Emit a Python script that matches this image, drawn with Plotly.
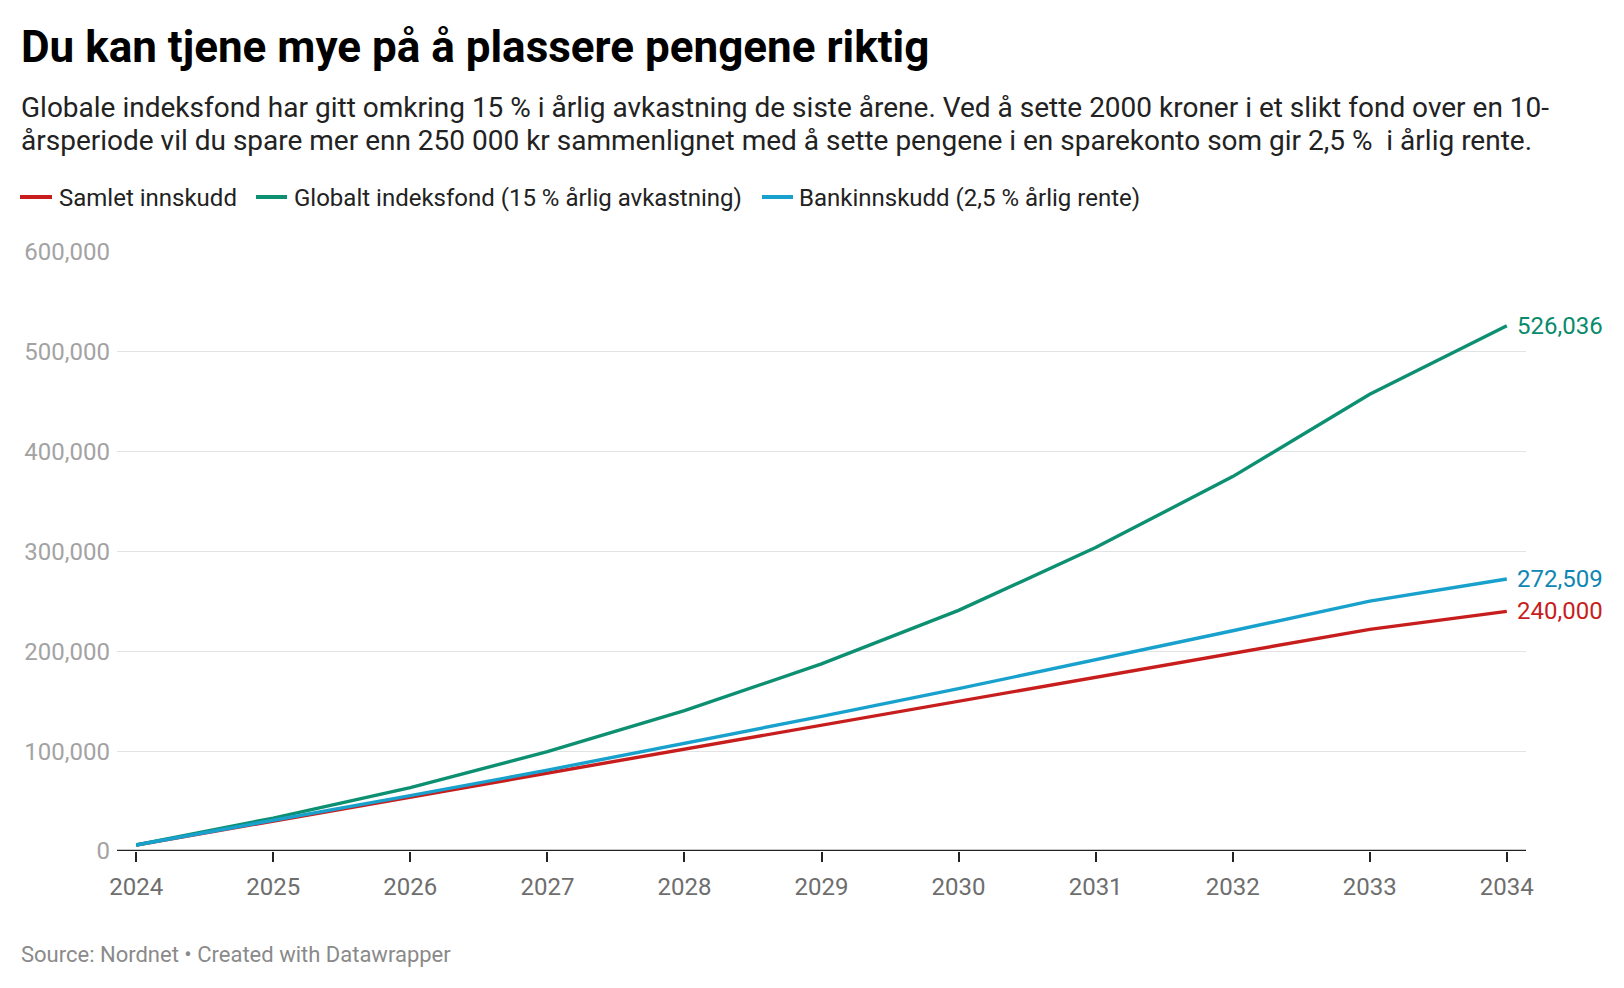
import plotly.graph_objects as go

years = [2024, 2025, 2026, 2027, 2028, 2029, 2030, 2031, 2032, 2033, 2034]
samlet = [6000, 30000, 54000, 78000, 102000, 126000, 150000, 174000, 198000, 222000, 240000]
globalt = [6000, 33000, 63500, 99500, 140500, 187500, 241000, 304000, 375000, 457500, 526036]
bank = [6000, 30400, 55400, 81000, 107700, 134800, 162600, 191200, 220600, 250300, 272509]

names = ["Samlet innskudd", "Globalt indeksfond (15 % årlig avkastning)", "Bankinnskudd (2,5 % årlig rente)"]
line_colors = ["#c71e1d", "#0d9072", "#18a1cd"]
label_colors = ["#c71e1d", "#0a8a6c", "#0f86b3"]
series = [samlet, globalt, bank]
end_labels = ["240,000", "526,036", "272,509"]
legend_x = [(20, 52, 57), (256, 287, 292), (762, 793, 797)]

FONT = "Roboto"
W, H = 1624, 988
L, R, T, B = 117, 98, 252, 137
pw, ph = W - L - R, H - T - B

def px(xp):
    return (xp - L) / pw

def py(yp):
    return (H - B - yp) / ph

fig = go.Figure()
for name, ys, c in zip(names, series, line_colors):
    fig.add_trace(go.Scatter(x=years, y=ys, mode="lines", name=name,
                             line=dict(color=c, width=3.4), hoverinfo="skip", showlegend=False))

for ys, lab, c in zip(series, end_labels, label_colors):
    fig.add_annotation(x=years[-1], y=ys[-1], text=lab, showarrow=False, xanchor="left",
                       xshift=8, font=dict(family=FONT, size=24, color=c))

# legend (drawn manually)
for name, c, (x0, x1, xt) in zip(names, line_colors, legend_x):
    fig.add_shape(type="line", xref="paper", yref="paper", x0=px(x0), x1=px(x1), y0=py(197), y1=py(197),
                  line=dict(color=c, width=4))
    fig.add_annotation(xref="paper", yref="paper", x=px(xt), y=py(198), xanchor="left", yanchor="middle",
                       text=name, showarrow=False, font=dict(family=FONT, size=24, color="#222222"))

fig.add_annotation(xref="paper", yref="paper", x=px(19), y=py(47), xanchor="left", yanchor="middle",
                   text="<b>Du kan tjene mye på å plassere pengene riktig</b>", showarrow=False,
                   font=dict(family=FONT, size=44, color="#000000"))
fig.add_annotation(xref="paper", yref="paper", x=px(19), y=py(107), xanchor="left", yanchor="middle",
                   text="Globale indeksfond har gitt omkring 15 % i årlig avkastning de siste årene. Ved å sette 2000 kroner i et slikt fond over en 10-",
                   showarrow=False, font=dict(family=FONT, size=28, color="#222222"))
fig.add_annotation(xref="paper", yref="paper", x=px(19), y=py(140), xanchor="left", yanchor="middle",
                   text="årsperiode vil du spare mer enn 250 000 kr sammenlignet med å sette pengene i en sparekonto som gir 2,5 %  i årlig rente.",
                   showarrow=False, font=dict(family=FONT, size=28, color="#222222"))
fig.add_annotation(xref="paper", yref="paper", x=px(19), y=py(954), xanchor="left", yanchor="middle",
                   text="Source: Nordnet • Created with Datawrapper", showarrow=False,
                   font=dict(family=FONT, size=22, color="#8a8a8a"))

fig.update_layout(
    width=W, height=H,
    margin=dict(l=L, r=R, t=T, b=B),
    paper_bgcolor="white", plot_bgcolor="white",
    font=dict(family=FONT),
    showlegend=False,
    xaxis=dict(range=[2023.86, 2034.14], tickvals=years, ticktext=[str(y) for y in years],
               showgrid=False, zeroline=False, showline=False,
               ticks="outside", ticklen=10, tickwidth=1.5, tickcolor="#222222",
               tickfont=dict(family=FONT, size=24, color="#6e6e6e"), ticklabelstandoff=4),
    yaxis=dict(range=[0, 600000], tickvals=[0, 100000, 200000, 300000, 400000, 500000, 600000],
               tickformat=",", showgrid=True, gridcolor="#e3e3e3", gridwidth=1.2,
               zeroline=False, showline=False, ticks="",
               tickfont=dict(family=FONT, size=24, color="#a3a3a3"), ticklabelstandoff=6),
)
fig.add_shape(type="line", xref="paper", yref="y", x0=0, x1=1, y0=0, y1=0,
              line=dict(color="#222222", width=2.5))

fig.write_html("out.html", config={"displayModeBar": False},
               post_script="document.body.style.margin='0';document.body.style.padding='0';")
